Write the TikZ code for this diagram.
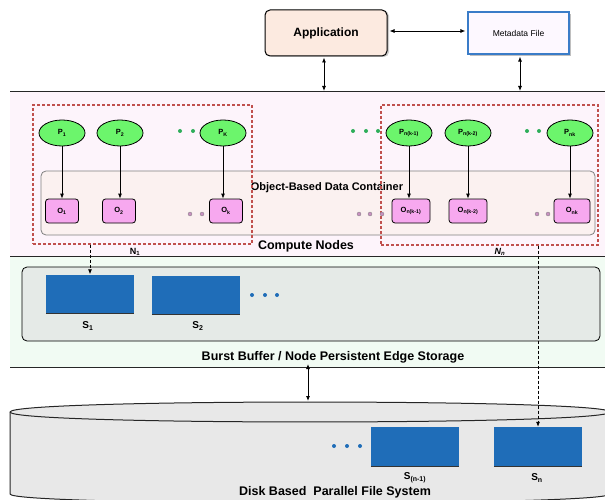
\documentclass[tikz,border=0pt]{standalone}
\usepackage{fontspec}
\setmainfont{Liberation Sans}
\usetikzlibrary{arrows.meta,shapes.geometric}
\definecolor{appfill}{HTML}{FCEAE0}
\definecolor{metafill}{HTML}{FDF8FF}
\definecolor{metaline}{HTML}{3A7CC8}
\definecolor{computefill}{HTML}{FDF4FB}
\definecolor{bufferfill}{HTML}{F1FBF3}
\definecolor{bufferbox}{HTML}{E5EAE7}
\definecolor{containerfill}{HTML}{FBF1F0}
\definecolor{procfill}{HTML}{6CF56C}
\definecolor{objfill}{HTML}{F7A8EF}
\definecolor{nodered}{HTML}{C0504D}
\definecolor{storeblue}{HTML}{1F6DB8}
\definecolor{diskfill}{HTML}{E8E8E8}
\definecolor{dotgreen}{HTML}{2EAE5A}
\definecolor{dotpink}{HTML}{C890C0}
\tikzset{
  proc/.style={ellipse, draw, line width=0.8pt, fill=procfill, minimum width=46pt, minimum height=26pt, inner sep=0pt, font=\fontsize{7.5}{8}\selectfont\bfseries},
  obj/.style={rectangle, rounded corners=3pt, draw, line width=0.8pt, fill=objfill, minimum width=33pt, minimum height=24pt, inner sep=0pt, font=\fontsize{7.5}{8}\selectfont\bfseries},
  store/.style={rectangle, fill=storeblue, minimum width=88pt, minimum height=39pt, inner sep=0pt},
  gdot/.style={circle, fill=dotgreen, minimum size=4pt, inner sep=0pt},
  pdot/.style={circle, fill=dotpink, draw=gray, line width=0.3pt, minimum size=4pt, inner sep=0pt},
  bdot/.style={circle, fill=storeblue, minimum size=4pt, inner sep=0pt},
  nodebox/.style={draw=nodered, line width=1.2pt, dash pattern=on 3pt off 2pt, inner sep=0pt},
  lbl/.style={font=\fontsize{12.5}{14}\selectfont\bfseries},
  slbl/.style={font=\fontsize{10}{11}\selectfont\bfseries},
  link/.style={-{Latex[length=5pt,width=4pt]}, line width=0.8pt},
  bilink/.style={{Latex[length=5pt,width=4pt]}-{Latex[length=5pt,width=4pt]}, line width=0.8pt}
}
\begin{document}
\begin{tikzpicture}[x=1pt,y=-1pt]
  \useasboundingbox (0,0) rectangle (605,500);
  \clip (0,0) rectangle (605,500);
  \fill[computefill] (10,92) rectangle (605,256);
  \fill[bufferfill] (10,256) rectangle (605,367);
  \draw[line width=1pt, black!85] (10,92) coordinate (computeTop) -- (605,92);
  \draw[line width=1pt, black!85] (10,256) -- (605,256);
  \draw[line width=1pt, black!85] (10,367) coordinate (bufferBottom) -- (605,367);
  \fill[gray!40, rounded corners=5pt] (267,11) rectangle (389,57);
  \node[draw, line width=1pt, rounded corners=5pt, fill=appfill, minimum width=122pt, minimum height=46pt, font=\fontsize{12}{14}\selectfont\bfseries] (app) at (326,33) {Application};
  \fill[gray!50] (470,14) rectangle (571,56);
  \node[draw=metaline, line width=1.2pt, fill=metafill, minimum width=101pt, minimum height=42pt, font=\fontsize{8.5}{10}\selectfont] (meta) at (518.5,33) {Metadata File};
  \draw[bilink] ([xshift=2pt,yshift=2pt]app.east) -- ([xshift=-2pt,yshift=2pt]meta.west);
  \coordinate (appDown) at (324,91);
  \coordinate (metaDown) at (520,91);
  \draw[bilink] ([yshift=-1pt]appDown |- app.south) -- (appDown);
  \draw[bilink] ([yshift=-2pt]metaDown |- meta.south) -- (metaDown);
  \node[draw=gray, line width=0.8pt, rounded corners=5pt, fill=containerfill, minimum width=554pt, minimum height=64pt] (container) at (318,203) {};
  \node[font=\fontsize{11}{12}\selectfont\bfseries] (containerLabel) at (327,188) {Object-Based Data Container};
  \node[nodebox, minimum width=219pt, minimum height=139pt] (n1) at (142.5,174.5) {};
  \node[nodebox, minimum width=217pt, minimum height=140pt] (nn) at (489.5,175) {};
  \node[proc] (p1) at (62,133) {P\textsubscript{1}};
  \node[proc] (p2) at (120,133) {P\textsubscript{2}};
  \node[proc] (pk) at (223,133) {P\textsubscript{K}};
  \node[proc] (pnk1) at (409,133) {P\textsubscript{n(k-1)}};
  \node[proc] (pnk2) at (468,133) {P\textsubscript{n(k-2)}};
  \node[proc] (pnk) at (570,133) {P\textsubscript{nk}};
  \node[obj] (o1) at (62,211) {O\textsubscript{1}};
  \node[obj] (o2) at (119,211) {O\textsubscript{2}};
  \node[obj] (ok) at (226,211) {O\textsubscript{k}};
  \node[obj, minimum width=38pt] (onk1) at (411,211) {O\textsubscript{n(k-1)}};
  \node[obj, minimum width=38pt] (onk2) at (468,211) {O\textsubscript{n(k-2)}};
  \node[obj, minimum width=36pt] (onk) at (572,211) {O\textsubscript{nk}};
  \draw[link] (p1) -- (o1);
  \draw[link] (p2) -- (o2.north -| p2);
  \draw[link] (pk) -- (ok.north -| pk);
  \draw[link] (pnk1) -- (onk1.north -| pnk1);
  \draw[link] (pnk2) -- (onk2);
  \draw[link] (pnk) -- (onk.north -| pnk);
  \foreach \x in {180,193,353,366,378,527,539}
    \node[gdot] at (\x,131) {};
  \foreach \x in {190,202,359,370,382,537,548}
    \node[pdot] at (\x,214) {};
  \node[lbl] (computeLabel) at (306,246) {Compute Nodes};
  \node[font=\fontsize{9}{10}\selectfont\bfseries] (n1Label) at (135,252) {N\textsubscript{1}};
  \node[font=\fontsize{9}{10}\selectfont\bfseries\itshape] (nnLabel) at (500,252) {N\textsubscript{n}};
  \node[draw, line width=0.8pt, rounded corners=5pt, fill=bufferbox, minimum width=578pt, minimum height=74pt] (buffer) at (311,304) {};
  \node[store] (s1) at (90,294) {};
  \node[store] (s2) at (196,295) {};
  \draw[line width=1.2pt, black!80] (s1.south west) -- (s1.south east);
  \draw[line width=1.2pt, black!80] (s2.south west) -- (s2.south east);
  \foreach \x in {252,265,277}
    \node[bdot] at (\x,295) {};
  \node[slbl] (s1Label) at (88,326) {S\textsubscript{1}};
  \node[slbl] (s2Label) at (198,326) {S\textsubscript{2}};
  \node[lbl] (bufferLabel) at (333,357) {Burst Buffer / Node Persistent Edge Storage};
  \fill[diskfill] (10,412) .. controls (10,398.7) and (610,398.7) .. (610,412) -- (610,494) .. controls (610,506) and (10,506) .. (10,494) -- cycle;
  \draw[line width=1pt, black!85] (10,494) -- (10,412) .. controls (10,398.7) and (610,398.7) .. (610,412);
  \draw[line width=1pt, black!85] (10,412) .. controls (10,425.3) and (610,425.3) .. (610,412);
  \draw[line width=1pt, black!85] (10,494) .. controls (10,506) and (610,506) .. (610,494);
  \coordinate (diskTop) at (308,401);
  \draw[bilink] ([yshift=3pt]diskTop |- bufferBottom) -- (diskTop);
  \node[store] (sn1) at (415,446.5) {};
  \node[store] (sn) at (538,446.5) {};
  \draw[line width=1.2pt, black!80] (sn1.south west) -- (sn1.south east);
  \draw[line width=1.2pt, black!80] (sn.south west) -- (sn.south east);
  \foreach \x in {334,347,360}
    \node[bdot] at (\x,446) {};
  \node[slbl] (sn1Label) at (415,478) {S\textsubscript{(n-1)}};
  \node[slbl] (snLabel) at (537,478) {S\textsubscript{n}};
  \node[lbl] (diskLabel) at (335,492) {Disk Based\ \ Parallel File System};
  \draw[link, dash pattern=on 3pt off 2pt] (s1.north |- n1.south) -- (s1.north);
  \draw[link, dash pattern=on 3pt off 2pt] (sn.north |- nn.south) -- (sn.north);
\end{tikzpicture}
\end{document}
